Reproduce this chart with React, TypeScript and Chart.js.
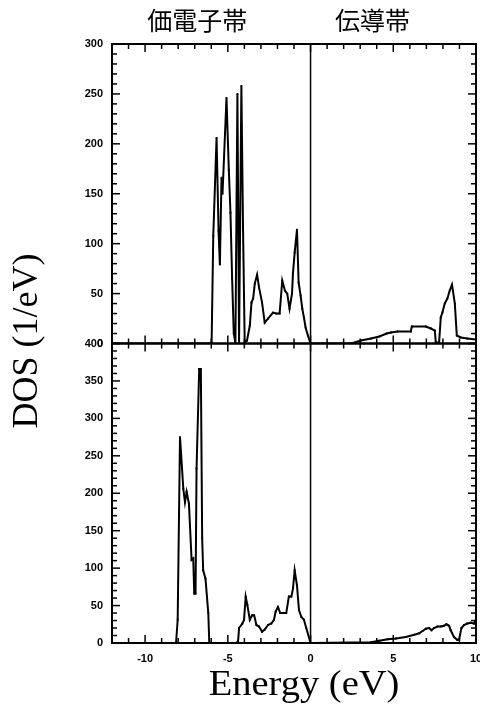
import { useEffect, useRef } from 'react';
import { Chart, registerables } from 'chart.js';

Chart.register(...registerables);

// ---- Data (energy in eV, DOS in 1/eV) ----
const topValE = [-12, -5.98, -5.88, -5.68, -5.56, -5.48, -5.38, -5.32, -5.08, -4.94, -4.84, -4.74, -4.64, -4.54, -4.42, -4.32, -4.18, -4.08, -3.98, -3.84, -3.67, -3.57, -3.47, -3.37, -3.23, -3.11, -2.93, -2.77, -2.57, -2.27, -2.07, -1.87, -1.71, -1.55, -1.41, -1.27, -1.12, -1.06, -0.96, -0.82, -0.72, -0.6, -0.5, -0.4, -0.3, -0.16, 0];
const topValD = [0, 0, 108, 206, 113, 79, 166, 150, 246, 174, 131, 65, 10, 0, 250, 0, 258, 115, 1, 3, 18, 41, 45, 60, 69, 56, 41, 21, 25, 31, 30, 30, 63, 53, 50, 35, 50, 71, 91, 114, 61, 48, 35, 26, 16, 8, 0];

const topCondE = [0, 2.45, 3.05, 3.65, 4.16, 4.6, 4.86, 5.26, 6.06, 6.12, 6.97, 7.27, 7.51, 7.57, 7.77, 7.87, 7.97, 8.11, 8.27, 8.41, 8.55, 8.72, 8.84, 9.08, 9.48, 10];
const topCondD = [0, 0, 3, 5, 7, 10, 11, 12, 12, 17, 17, 15, 13, 1, 1, 26, 31, 40, 45, 53, 59, 40, 8, 6, 5, 4];

const botValE = [-12, -8.13, -8.03, -7.89, -7.69, -7.59, -7.49, -7.35, -7.19, -7.09, -7.03, -6.95, -6.89, -6.73, -6.63, -6.55, -6.49, -6.35, -6.18, -6.12, -4.54, -4.38, -4.32, -4.12, -4.02, -3.92, -3.82, -3.67, -3.53, -3.41, -3.27, -3.11, -2.93, -2.77, -2.57, -2.37, -2.21, -2.11, -1.97, -1.83, -1.63, -1.47, -1.31, -1.16, -1.06, -0.96, -0.82, -0.7, -0.56, -0.4, -0.26, 0];
const botValD = [0, 0, 31, 275, 206, 188, 202, 186, 111, 113, 66, 66, 233, 366, 366, 140, 97, 86, 40, 0, 0, 2, 20, 26, 31, 62, 51, 31, 37, 37, 24, 22, 15, 18, 24, 26, 31, 42, 48, 40, 40, 40, 62, 62, 73, 97, 77, 44, 35, 31, 20, 0];

const botCondE = [0, 3.65, 4.16, 4.66, 5.16, 5.76, 6.27, 6.57, 6.77, 6.97, 7.17, 7.31, 7.47, 7.67, 7.87, 8.07, 8.21, 8.37, 8.47, 8.67, 8.88, 8.98, 9.12, 9.28, 9.48, 9.68, 9.88, 10];
const botCondD = [0, 1, 3, 5, 6, 8, 11, 13, 16, 19, 20, 17, 20, 22, 22, 23, 25, 23, 17, 8, 4, 5, 20, 24, 26, 27, 26, 31];

// ---- Axis ranges / ticks / labels ----
const X_MIN = -12;
const X_MAX = 10;
const X_STEP = 5;
const TOP_MAX = 300;
const BOT_MAX = 400;
const Y_STEP = 50;
const MINOR_X = 1;
const MINOR_Y = 10;
const bandLabels = ['価電子帯', '伝導帯'];
const bandLabelX = [-6.85, 3.75];
const xTitle = 'Energy (eV)';
const yTitle = 'DOS (1/eV)';

const pts = (xs: number[], ys: number[]) => xs.map((x, i) => ({ x, y: ys[i] }));

const tickFont = { family: 'Liberation Sans', size: 11, weight: 'bold' as const };

const framePlugin = {
  id: 'frames',
  afterDraw(chart: any) {
    const ctx = chart.ctx as CanvasRenderingContext2D;
    const xs = chart.scales.x;
    const panels = [chart.scales.yTop, chart.scales.yBot];
    const line = (a: number, b: number, c: number, d: number) => {
      ctx.beginPath();
      ctx.moveTo(a, b);
      ctx.lineTo(c, d);
      ctx.stroke();
    };
    ctx.save();
    ctx.strokeStyle = '#000';
    ctx.lineCap = 'butt';
    for (const ys of panels) {
      const L = xs.left, R = xs.right, T = ys.top, B = ys.bottom;
      const x0 = xs.getPixelForValue(0);
      ctx.lineWidth = 1.5;
      line(x0, T, x0, B);
      ctx.lineWidth = 2;
      ctx.strokeRect(L, T, R - L, B - T);
      ctx.lineWidth = 1.5;
      for (let e = X_MIN; e <= X_MAX; e += MINOR_X) {
        const px = xs.getPixelForValue(e);
        const len = e % X_STEP === 0 ? 8 : 5;
        line(px, B, px, B - len);
        line(px, T, px, T + len);
      }
      for (let v = 0; v <= ys.max; v += MINOR_Y) {
        const py = ys.getPixelForValue(v);
        const len = v % Y_STEP === 0 ? 8 : 5;
        line(L, py, L + len, py);
        line(R, py, R - len, py);
      }
    }
    // band labels
    ctx.fillStyle = '#000';
    ctx.font = '25px "Noto Sans CJK JP"';
    ctx.textAlign = 'center';
    ctx.textBaseline = 'alphabetic';
    bandLabels.forEach((t, i) => {
      ctx.fillText(t, xs.getPixelForValue(bandLabelX[i]), 30);
    });
    // x title
    ctx.save();
    ctx.font = '36px "Liberation Serif"';
    ctx.translate(304, 695);
    ctx.scale(1.07, 1);
    ctx.fillText(xTitle, 0, 0);
    ctx.restore();
    // y title
    ctx.save();
    ctx.font = '36px "Liberation Serif"';
    ctx.translate(37, 341);
    ctx.rotate(-Math.PI / 2);
    ctx.fillText(yTitle, 0, 0);
    ctx.restore();
    ctx.restore();
  },
};

const lineDs = (data: { x: number; y: number }[], axis: string) => ({
  data,
  yAxisID: axis,
  borderColor: '#000',
  backgroundColor: '#000',
  borderWidth: 2,
  pointRadius: 1.3,
  pointBorderWidth: 0,
  pointStyle: 'rect' as const,
  tension: 0,
  fill: false,
});

export default function App() {
  const ref = useRef<HTMLCanvasElement>(null);
  useEffect(() => {
    if (!ref.current) return;
    const chart = new Chart(ref.current, {
      type: 'line',
      data: {
        datasets: [
          lineDs(pts(topValE, topValD), 'yTop'),
          lineDs(pts(topCondE, topCondD), 'yTop'),
          lineDs(pts(botValE, botValD), 'yBot'),
          lineDs(pts(botCondE, botCondD), 'yBot'),
        ],
      },
      options: {
        animation: false,
        responsive: false,
        devicePixelRatio: 1,
        layout: { padding: { top: 44, right: 2, left: 0, bottom: 0 } },
        plugins: { legend: { display: false }, tooltip: { enabled: false } },
        scales: {
          x: {
            type: 'linear',
            position: 'bottom',
            min: X_MIN,
            max: X_MAX,
            grid: { display: false, drawTicks: false },
            border: { display: false },
            ticks: { stepSize: X_STEP, includeBounds: false, padding: 9, color: '#000', font: tickFont, maxRotation: 0 },
            afterFit: (s: any) => { s.height = 61; s.paddingLeft = 0; s.paddingRight = 0; },
          },
          yTop: {
            type: 'linear',
            position: 'left',
            stack: 'dos',
            stackWeight: 1,
            weight: 2,
            offset: false,
            min: 0,
            max: TOP_MAX,
            grid: { display: false, drawTicks: false },
            border: { display: false },
            ticks: { stepSize: Y_STEP, padding: 9, color: '#000', font: tickFont },
            afterFit: (s: any) => { s.width = 112; s.paddingTop = 0; s.paddingBottom = 0; },
          },
          yBot: {
            type: 'linear',
            position: 'left',
            stack: 'dos',
            stackWeight: 1,
            weight: 1,
            offset: false,
            min: 0,
            max: BOT_MAX,
            grid: { display: false, drawTicks: false },
            border: { display: false },
            ticks: { stepSize: Y_STEP, padding: 9, color: '#000', font: tickFont },
            afterFit: (s: any) => { s.width = 112; s.paddingTop = 0; s.paddingBottom = 0; },
          },
        },
      },
      plugins: [framePlugin],
    } as any);
    return () => chart.destroy();
  }, []);
  return (
    <div style={{ position: 'absolute', left: 0, top: 0, width: 480, height: 704 }}>
      <canvas ref={ref} width={480} height={704} style={{ display: 'block' }} />
    </div>
  );
}
